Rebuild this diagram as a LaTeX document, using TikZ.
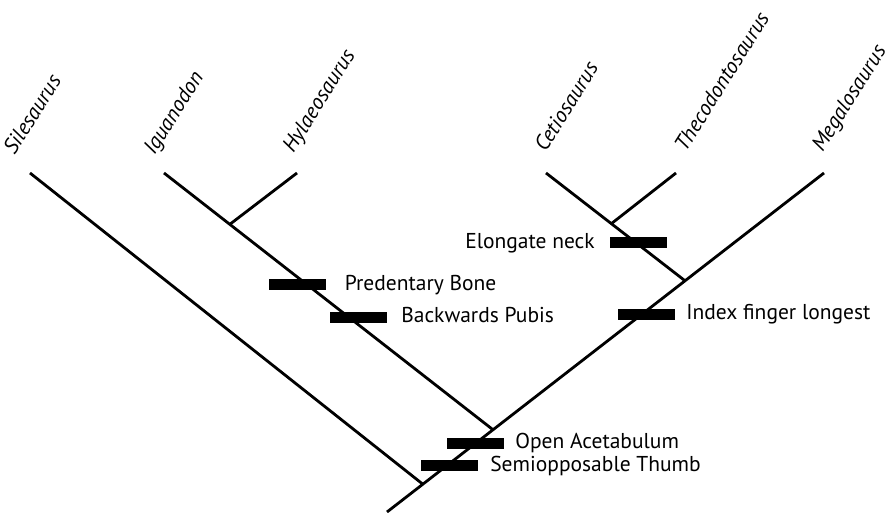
\documentclass[tikz,border=0pt]{standalone}
\usepackage{fontspec}
\setmainfont{PT Sans}
\usetikzlibrary{positioning,calc}

\begin{document}
\begin{tikzpicture}[x=1pt,y=1pt,line width=2.8pt,node distance=10pt,
    trait/.style={fill=black,minimum width=57pt,minimum height=11pt,inner sep=0pt},
    taxon/.style={rotate=58,anchor=base west,inner sep=0pt,font=\fontsize{21.5}{25}\selectfont\itshape},
    charlabel/.style={inner sep=0pt,text height=15pt,text depth=4.5pt,font=\fontsize{21.5}{25}\selectfont}]
    \useasboundingbox (0,0) rectangle (893,513);
    % leaves and root
    \coordinate (sil) at (30,340);
    \coordinate (igu) at (164,340);
    \coordinate (hyl) at (297,340);
    \coordinate (cet) at (546,340);
    \coordinate (the) at (676,340);
    \coordinate (meg) at (824,340);
    \coordinate (root) at (387,1);
    % branching points
    \coordinate (j1) at ($(root)!0.082!(meg)$);
    \coordinate (j2) at ($(root)!0.2426!(meg)$);
    \coordinate (j4) at ($(root)!0.682!(meg)$);
    \coordinate (j3) at ($(igu)!0.2!(j2)$);
    \coordinate (j5) at ($(cet)!0.47!(j4)$);

    \draw (root) -- (meg);
    \draw (sil) -- (j1);
    \draw (igu) -- (j2);
    \draw (hyl) -- (j3);
    \draw (cet) -- (j4);
    \draw (the) -- (j5);

    \node[taxon] (silname) at (14,356) {Silesaurus};
    \node[taxon] (iguname) at (154,356) {Iguanodon};
    \node[taxon] (hylname) at (293,358) {Hylaeosaurus};
    \node[taxon] (cetname) at (545,359) {Cetiosaurus};
    \node[taxon] (thename) at (685,359) {Thecodontosaurus};
    \node[taxon] (megname) at (822,359) {Megalosaurus};

    \node[trait] (neck) at (638,270) {};
    \node[trait] (predentary) at (297.5,228) {};
    \node[trait] (pubis) at (358,195.5) {};
    \node[trait] (index) at (646,198.5) {};
    \node[trait] (acetabulum) at (475,69.5) {};
    \node[trait] (thumb) at (449,47) {};

    \node[charlabel,left=12pt of neck] (necklabel) {Elongate neck};
    \node[charlabel,right=16pt of predentary] (predentarylabel) {Predentary Bone};
    \node[charlabel,right=12pt of pubis] (pubislabel) {Backwards Pubis};
    \node[charlabel,right=9pt of index] (indexlabel) {Index finger longest};
    \node[charlabel,right=9pt of acetabulum] (acetabulumlabel) {Open Acetabulum};
    \node[charlabel,right=10pt of thumb] (thumblabel) {Semiopposable Thumb};
\end{tikzpicture}
\end{document}
